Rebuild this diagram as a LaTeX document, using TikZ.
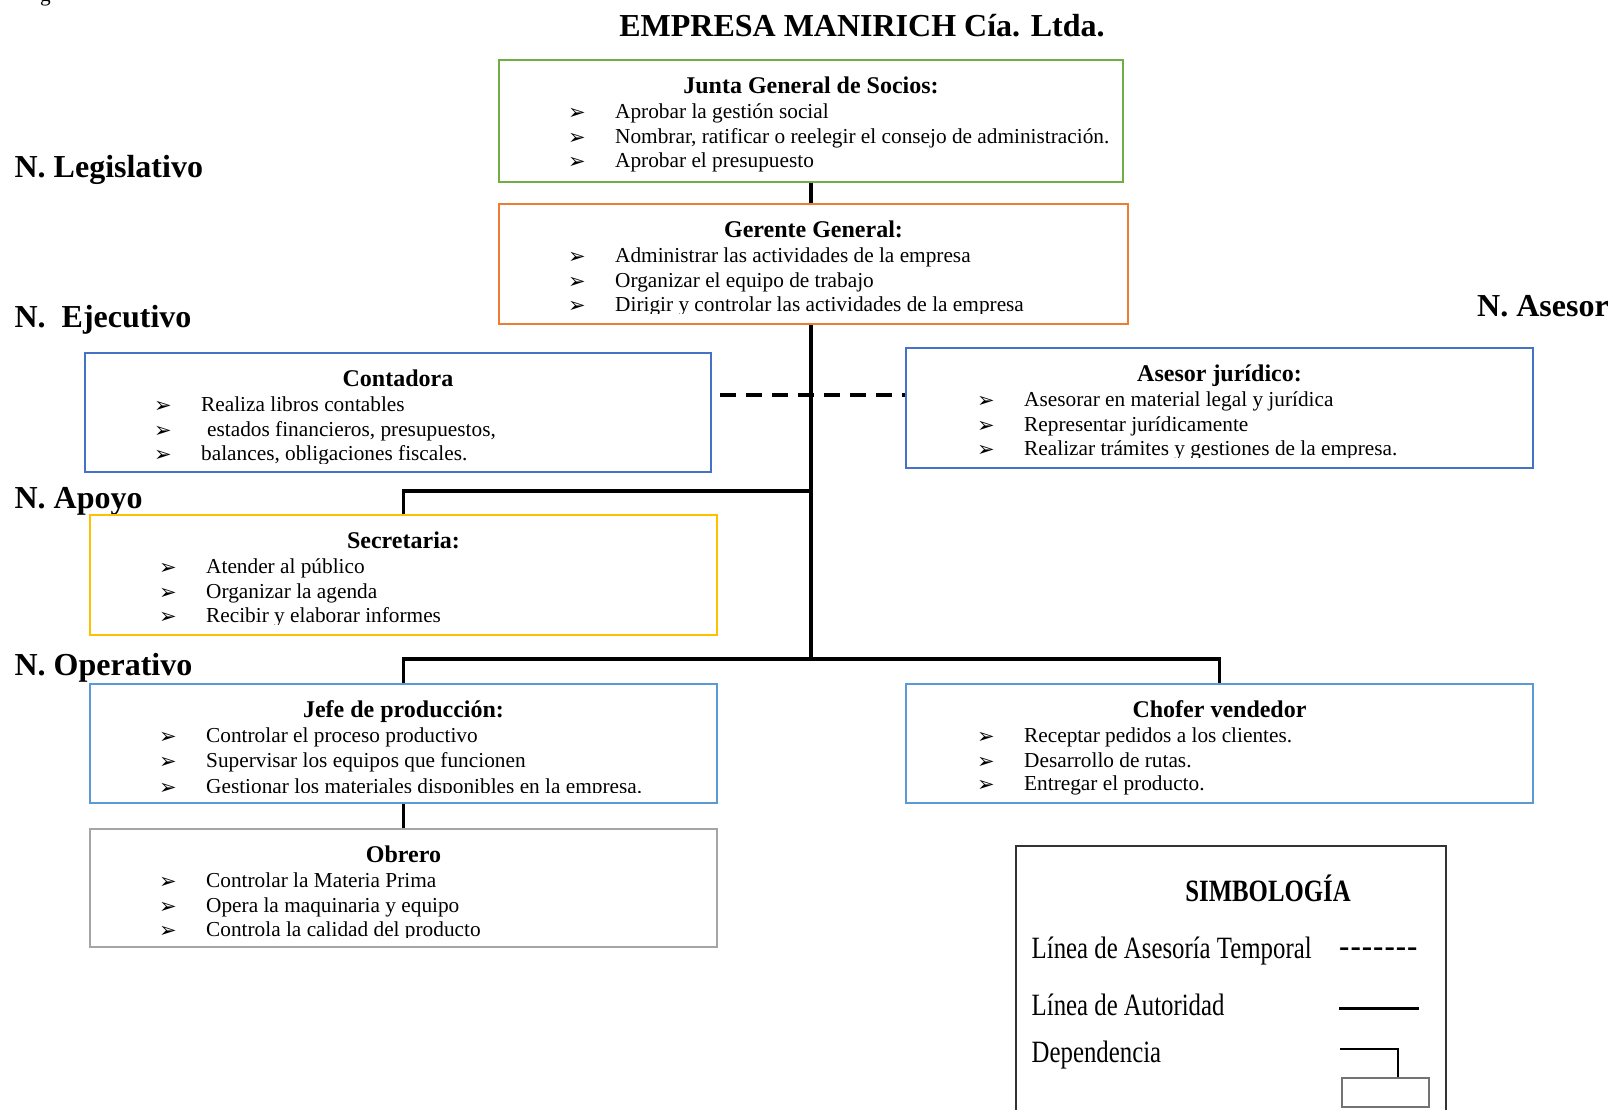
\documentclass[tikz,border=0pt]{standalone}
\usepackage{fontspec}
\setmainfont{Liberation Serif}
\newfontfamily\bulfont{DejaVu Sans}
\newfontfamily\legfont[FakeStretch=0.8]{Liberation Serif}
\usetikzlibrary{fit,calc}
\definecolor{cgreen}{HTML}{70AD47}
\definecolor{corange}{HTML}{ED7D31}
\definecolor{cblue}{HTML}{4472C4}
\definecolor{clblue}{HTML}{5B9BD5}
\definecolor{cyellow}{HTML}{FFC000}
\definecolor{cgray}{HTML}{A5A5A5}
\tikzset{
  orgframe/.style={line width=2.5pt, inner sep=0pt, fill=white},
  hdr/.style={anchor=base, inner sep=0pt, font=\fontsize{24}{28}\selectfont\bfseries},
  itm/.style={anchor=base west, inner sep=0pt, font=\fontsize{21.3}{24.6}\selectfont},
  lvl/.style={anchor=base west, inner sep=0pt, font=\fontsize{32}{36}\selectfont\bfseries},
  conn/.style={line width=3.5pt, line join=miter, black},
  dashconn/.style={line width=3.5pt, dash pattern=on 16pt off 10pt, black},
  legtxt/.style={anchor=base west, inner sep=0pt, font=\legfont\fontsize{31}{34}\selectfont},
}
\newcommand\bul{\makebox[47pt][l]{\raisebox{-1pt}{\bulfont\fontsize{21}{21}\selectfont ➢}}}
\newcommand\lastextra{0}
\newcommand\clipmargin{11.5}
\newcommand\orgbox[9]{%
  \node[orgframe, draw=#2, fit={(#3,#4) (#5,#6)}] (#1) {};
  \begin{scope}
    \clip ([yshift=2pt]#1.north west) rectangle ([yshift=\clipmargin pt]#1.south east);
    \node[hdr] (#1-h) at ([yshift=-35pt]#1.north) {#8};
    \foreach \itemtxt [count=\i] in {#9} {
      \node[itm] (#1-\i) at (#7, {#4+58.7+(\i-1)*24.6+(\i==3)*\lastextra}) {\bul\itemtxt};
    }
  \end{scope}}
\begin{document}
\begin{tikzpicture}[x=1pt,y=-1pt]
\useasboundingbox (0,0) rectangle (1612,1110);

\node[anchor=base west, inner sep=0pt, font=\fontsize{21.3}{24}\selectfont] (gfrag) at (40,1.5) {g};

\node[anchor=base, inner sep=0pt, font=\fontsize{32}{36}\selectfont\bfseries] (title) at (862,36.5) {EMPRESA MANIRICH Cía. Ltda.};

\node[lvl] (lvlleg) at (14.4,177.5) {N. Legislativo};
\node[lvl] (lvleje) at (14.4,327.5) {N.\ \ Ejecutivo};
\node[lvl] (lvlapo) at (14.4,508.5) {N. Apoyo};
\node[lvl] (lvlope) at (14.4,675) {N. Operativo};
\node[lvl] (lvlase) at (1477,316) {N. Asesor};

\orgbox{junta}{cgreen}{499}{60}{1123}{182}{568}{Junta General de Socios:}{Aprobar la gestión social, {Nombrar, ratificar o reelegir el consejo de administración.}, Aprobar el presupuesto}
\orgbox{gerente}{corange}{499}{204}{1128}{324}{568}{Gerente General:}{Administrar las actividades de la empresa, Organizar el equipo de trabajo, Dirigir y controlar las actividades de la empresa}
\renewcommand\clipmargin{9.5}
\orgbox{contadora}{cblue}{85}{353}{711}{472}{154}{Contadora}{Realiza libros contables, {\hspace{6pt}estados financieros, presupuestos,}, {balances, obligaciones fiscales.}}
\renewcommand\clipmargin{11.5}
\orgbox{asesor}{cblue}{906}{348}{1533}{468}{977}{Asesor jurídico:}{Asesorar en material legal y jurídica, Representar jurídicamente, Realizar trámites y gestiones de la empresa.}
\orgbox{secretaria}{cyellow}{90}{515}{717}{635}{159}{Secretaria:}{Atender al público, Organizar la agenda, Recibir y elaborar informes}
\renewcommand\lastextra{1.5}
\orgbox{jefe}{clblue}{90}{684}{717}{803}{159}{Jefe de producción:}{Controlar el proceso productivo, Supervisar los equipos que funcionen, Gestionar los materiales disponibles en la empresa.}
\renewcommand\lastextra{-1}
\renewcommand\clipmargin{9}
\orgbox{chofer}{clblue}{906}{684}{1533}{803}{977}{Chofer vendedor}{Receptar pedidos a los clientes., Desarrollo de rutas., Entregar el producto.}
\renewcommand\lastextra{0}
\renewcommand\clipmargin{11}
\orgbox{obrero}{cgray}{90}{829}{717}{947}{159}{Obrero}{Controlar la Materia Prima, Opera la maquinaria y equipo, Controla la calidad del producto}

% connectors
\coordinate (secj) at (811,491);
\coordinate (opj) at (811,659);
\coordinate (dashL) at (720,395);
\draw[conn] (junta.south) -- (junta.south |- gerente.north);
\draw[conn] (junta.south |- gerente.south) -- (opj);
\draw[conn] (secj) -| (secretaria.north);
\draw[conn] (jefe.north) |- (opj) -| (chofer.north);
\draw[conn] (jefe.south) -- (obrero.north);
\draw[dashconn] (dashL) -- (dashL -| asesor.west);

% legend
\node[draw=black!80, line width=1.6pt, inner sep=0pt, fit={(1016,846) (1446,1125)}] (legend) {};
\node[anchor=base, inner sep=0pt, font=\legfont\fontsize{31}{34}\selectfont\bfseries] (legtitle) at (1268,901) {SIMBOLOGÍA};
\node[legtxt] (legl1) at (1031.5,958) {Línea de Asesoría Temporal};
\node[legtxt] (legl2) at (1031.5,1015) {Línea de Autoridad};
\node[legtxt] (legl3) at (1031.5,1062) {Dependencia};
\node[anchor=base west, inner sep=0pt, font=\fontsize{31}{34}\selectfont\bfseries] (legdash) at (1339,956) {-\kern1pt-\kern1pt-\kern1pt-\kern1pt-\kern1pt-\kern1pt-};
\coordinate (ls1) at (1339,1008);
\coordinate (ls2) at (1419,1008);
\draw[line width=3pt] (ls1) -- (ls2);
\coordinate (ld1) at (1340,1049);
\coordinate (ld2) at (1398,1049);
\node[draw=black!55, line width=1.3pt, inner sep=0pt, fit={(1342,1078) (1429,1107)}] (legbox) {};
\draw[line width=2.5pt, line join=miter] (ld1) -- (ld2) -- (ld2 |- legbox.north);
\end{tikzpicture}
\end{document}
